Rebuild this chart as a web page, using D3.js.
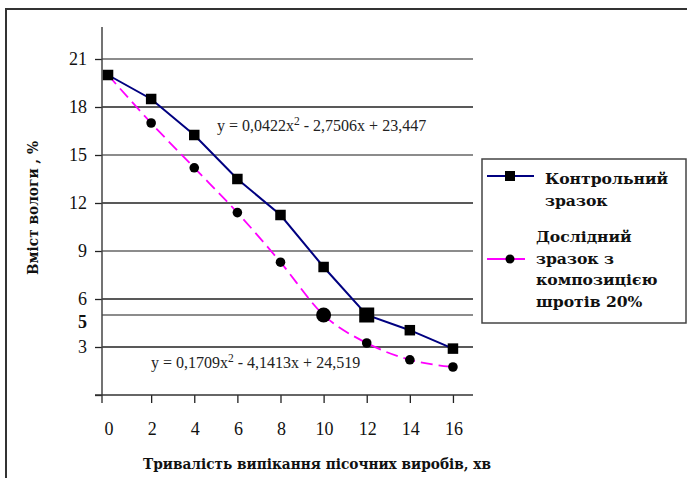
<!DOCTYPE html>
<html>
<head>
<meta charset="utf-8">
<script src="https://cdn.jsdelivr.net/npm/d3@7"></script>
<style>
  body { margin: 0; background: #fff; }
  svg { display: block; font-family: "Liberation Serif", "DejaVu Serif", serif; }
  .cyr { font-family: "DejaVu Serif", serif; font-weight: bold; fill: #111; }
</style>
</head>
<body>
<svg id="chart"></svg>
<script>
var xValues = [0, 2, 4, 6, 8, 10, 12, 14, 16];
var controlValues = [20, 18.5, 16.25, 13.5, 11.25, 8.0, 5.0, 4.05, 2.9];
var expValues = [20, 17.0, 14.2, 11.4, 8.3, 5.0, 3.25, 2.2, 1.75];
var yTicks = [21, 18, 15, 12, 9, 6, 5, 3];
var yTickMarks = [21, 18, 15, 12, 9, 6, 3, 0];
var controlBig = [12];
var expBig = [10];
var controlName = ["Контрольний", "зразок"];
var expName = ["Дослідний", "зразок з", "композицією", "шротів 20%"];
var xTitle = "Тривалість випікання пісочних виробів, хв";
var yTitle = "Вміст вологи , %";
var eqControl = ["y = 0,0422x", "2", " - 2,7506x + 23,447"];
var eqExp = ["y = 0,1709x", "2", " - 4,1413x + 24,519"];

var svgWidth = 687;
var svgHeight = 478;
var svg = d3.select("#chart")
    .attr("width", svgWidth)
    .attr("height", svgHeight);

// outer frame, runs off the right and bottom edge
svg.append("rect")
    .attr("x", 6).attr("y", 9)
    .attr("width", 720).attr("height", 520)
    .style("fill", "none")
    .style("stroke", "#333")
    .style("stroke-width", "2px");

var plotLeft = 102, plotRight = 473, plotTop = 27, plotBottom = 395;

var xScale = d3.scaleLinear()
    .domain([-0.28, 16.93])
    .range([plotLeft, plotRight]);

var yScale = d3.scaleLinear()
    .domain([0, 23])
    .range([plotBottom, plotTop]);

// gridlines
svg.append("g")
    .selectAll("line")
    .data(yTicks)
    .enter()
    .append("line")
    .attr("x1", plotLeft).attr("x2", plotRight)
    .attr("y1", d => yScale(d)).attr("y2", d => yScale(d))
    .style("stroke", (d, i) => (i % 2 == 0 ? "#666" : "#222"))
    .style("stroke-width", "1.3px");

// y axis
var yAxis = svg.append("g")
    .attr("class", "yAxis")
    .attr("transform", "translate(" + plotLeft + ",0)")
    .call(d3.axisLeft(yScale)
        .tickValues(yTickMarks)
        .tickSize(7)
        .tickFormat(""));
yAxis.select(".domain").remove();
yAxis.selectAll(".tick line").style("stroke", "#222").style("stroke-width", "1.3px");

svg.append("line")
    .attr("x1", plotLeft).attr("x2", plotLeft)
    .attr("y1", plotTop).attr("y2", plotBottom + 8)
    .style("stroke", "#444")
    .style("stroke-width", "1.5px");

// the "5" label sits a bit below its line in the original
svg.append("g")
    .selectAll("text")
    .data(yTicks)
    .enter()
    .append("text")
    .attr("x", 87)
    .attr("y", d => yScale(d) + (d == 5 ? 13 : 6))
    .attr("text-anchor", "end")
    .attr("font-size", "18px")
    .attr("font-weight", d => (d == 5 ? "bold" : "normal"))
    .attr("fill", "#111")
    .text(d => d);

// x axis
var xAxis = svg.append("g")
    .attr("class", "xAxis")
    .attr("transform", "translate(0," + plotBottom + ")")
    .call(d3.axisBottom(xScale)
        .tickValues(xValues.slice(1))
        .tickSize(8)
        .tickFormat(""));
xAxis.select(".domain").remove();
xAxis.selectAll(".tick line").style("stroke", "#222").style("stroke-width", "1.3px");

svg.append("line")
    .attr("x1", plotLeft - 7).attr("x2", plotRight)
    .attr("y1", plotBottom).attr("y2", plotBottom)
    .style("stroke", "#333")
    .style("stroke-width", "1.5px");

svg.append("g")
    .selectAll("text")
    .data(xValues)
    .enter()
    .append("text")
    .attr("x", d => xScale(d) + 1)
    .attr("y", 435)
    .attr("text-anchor", "middle")
    .attr("font-size", "18px")
    .attr("fill", "#111")
    .text(d => d);

// axis titles
svg.append("text")
    .attr("x", 317).attr("y", 469)
    .attr("text-anchor", "middle")
    .attr("font-size", "15px")
    .attr("class", "cyr")
    .attr("textLength", 348)
    .attr("lengthAdjust", "spacingAndGlyphs")
    .text(xTitle);

svg.append("text")
    .attr("transform", "translate(38,208) rotate(-90)")
    .attr("text-anchor", "middle")
    .attr("font-size", "15px")
    .attr("class", "cyr")
    .attr("textLength", 134)
    .attr("lengthAdjust", "spacingAndGlyphs")
    .text(yTitle);

// series
var controlData = xValues.map((x, i) => ({x: x, y: controlValues[i]}));
var expData = xValues.map((x, i) => ({x: x, y: expValues[i]}));

var line = d3.line()
    .x(d => xScale(d.x))
    .y(d => yScale(d.y));

svg.append("path")
    .datum(expData)
    .attr("fill", "none")
    .attr("stroke", "#ff00ff")
    .attr("stroke-width", "1.8px")
    .attr("stroke-dasharray", "12,6")
    .attr("d", line.curve(d3.curveMonotoneX));

svg.append("path")
    .datum(controlData)
    .attr("fill", "none")
    .attr("stroke", "#000080")
    .attr("stroke-width", "2px")
    .attr("d", line.curve(d3.curveLinear));

svg.append("g")
    .selectAll("circle")
    .data(expData.slice(1))
    .enter()
    .append("circle")
    .attr("cx", d => xScale(d.x))
    .attr("cy", d => yScale(d.y))
    .attr("r", d => (expBig.indexOf(d.x) >= 0 ? 7.5 : 4.8))
    .attr("fill", "#000");

svg.append("g")
    .selectAll("rect")
    .data(controlData)
    .enter()
    .append("rect")
    .each(function(d) {
        var s = controlBig.indexOf(d.x) >= 0 ? 15 : 10.5;
        d3.select(this)
            .attr("x", xScale(d.x) - s / 2)
            .attr("y", yScale(d.y) - s / 2)
            .attr("width", s)
            .attr("height", s);
    })
    .attr("fill", "#000");

// trend equations
function equation(parts, x, y) {
    var t = svg.append("text")
        .attr("x", x).attr("y", y)
        .attr("font-size", "16px")
        .attr("fill", "#222");
    t.append("tspan").text(parts[0]);
    t.append("tspan").attr("dy", -6).attr("font-size", "11.5px").text(parts[1]);
    t.append("tspan").attr("dy", 6).text(parts[2]);
}
equation(eqControl, 217, 131);
equation(eqExp, 151, 368);

// legend
var legend = svg.append("g");
legend.append("rect")
    .attr("x", 482).attr("y", 159)
    .attr("width", 204).attr("height", 164)
    .style("fill", "#fff")
    .style("stroke", "#444")
    .style("stroke-width", "1.5px");

legend.append("line")
    .attr("x1", 487).attr("x2", 534)
    .attr("y1", 176).attr("y2", 176)
    .style("stroke", "#000080").style("stroke-width", "2px");
legend.append("rect")
    .attr("x", 505).attr("y", 171)
    .attr("width", 10).attr("height", 10)
    .attr("fill", "#000");
legend.append("g")
    .selectAll("text")
    .data(controlName)
    .enter()
    .append("text")
    .attr("x", 545)
    .attr("y", (d, i) => 184 + i * 22)
    .attr("font-size", "15.6px")
    .attr("class", "cyr")
    .text(d => d);

legend.append("line")
    .attr("x1", 487).attr("x2", 525)
    .attr("y1", 259).attr("y2", 259)
    .style("stroke", "#ff00ff").style("stroke-width", "2px");
legend.append("circle")
    .attr("cx", 510).attr("cy", 259).attr("r", 4.5)
    .attr("fill", "#000");
legend.append("g")
    .selectAll("text")
    .data(expName)
    .enter()
    .append("text")
    .attr("x", 536)
    .attr("y", (d, i) => 242 + i * 21.5)
    .attr("font-size", "15.6px")
    .attr("class", "cyr")
    .text(d => d);
</script>
</body>
</html>
